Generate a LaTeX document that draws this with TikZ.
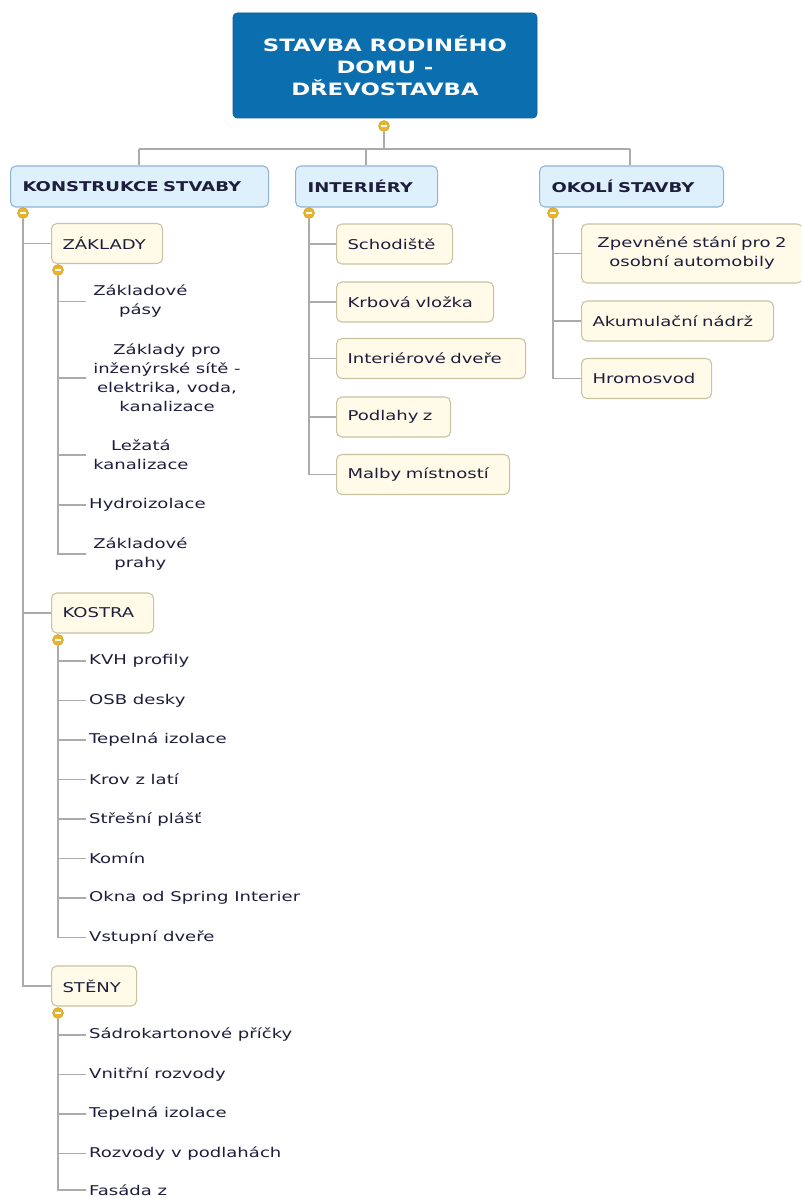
\documentclass[tikz,border=0pt]{standalone}
\usepackage{fontspec}
\setmainfont{DejaVu Sans}[FakeStretch=1.34]
\usetikzlibrary{backgrounds}

\definecolor{rootblue}{HTML}{0B6FAF}
\definecolor{rootedge}{HTML}{0A5E95}
\definecolor{topfill}{HTML}{DDF0FB}
\definecolor{topedge}{HTML}{8FB3D6}
\definecolor{subfill}{HTML}{FFFBE8}
\definecolor{subedge}{HTML}{C8C2A0}
\definecolor{linkgray}{HTML}{ABABAB}
\definecolor{knobyellow}{HTML}{E6B52C}
\definecolor{ink}{HTML}{1E1E3C}

\tikzset{
  rootbox/.style={draw=rootedge, fill=rootblue, rounded corners=3pt, text=white,
    font=\bfseries\fontsize{12.75}{16.5}\selectfont, align=center,
    minimum width=228pt, minimum height=78.75pt, inner sep=0pt},
  topic/.style={draw=topedge, fill=topfill, line width=0.8pt, rounded corners=4pt,
    anchor=west, font=\bfseries\fontsize{10.1}{13}\selectfont, text=ink,
    minimum height=30.75pt, inner xsep=9pt, inner ysep=0pt, align=left, text width=#1},
  sub/.style={draw=subedge, fill=subfill, line width=0.8pt, rounded corners=4pt,
    anchor=west, font=\fontsize{10.1}{14.25}\selectfont, text=ink,
    minimum height=30pt, inner xsep=8.25pt, inner ysep=0pt, align=left, text width=#1},
  leaf/.style={anchor=west, inner xsep=2.2pt, inner ysep=0pt,
    font=\fontsize{10.1}{14.25}\selectfont, text=ink},
  leafc/.style={leaf, align=center, inner xsep=5.25pt},
  knob/.style={circle, fill=knobyellow, draw=knobyellow!85!black, line width=0.3pt,
    minimum size=8.25pt, inner sep=0pt,
    path picture={\draw[white, line width=1.1pt]
      ([xshift=-2.3pt]path picture bounding box.center) --
      ([xshift=2.3pt]path picture bounding box.center);}},
  link/.style={draw=linkgray, line width=1.1pt},
  leaflink/.style={draw=linkgray, line width=1pt}
}

\begin{document}
\begin{tikzpicture}[x=0.75pt, y=-0.75pt]
\useasboundingbox (0,0) rectangle (801,1198);
\clip (0,0) rectangle (801,1198);

% central topic
\node[rootbox] (root) at (385,65.5) {STAVBA RODINÉHO\\DOMU -\\DŘEVOSTAVBA};
\node[knob] (rk) at (384,126) {};

% junction points on the distribution bar
\coordinate (barK) at (139,149);
\coordinate (barI) at (366,149);
\coordinate (barO) at (630,149);

% main branches
\node[topic=175.5pt] (kon) at (10,186.5) {KONSTRUKCE STVABY};
\node[topic=88.5pt]  (inte) at (295,186.5) {INTERIÉRY};
\node[topic=120pt]   (oko) at (539,186.5) {OKOLÍ STAVBY};
\node[knob] (kk) at (23,213) {};
\node[knob] (ik) at (309,213) {};
\node[knob] (ok) at (553,213) {};

% KONSTRUKCE STVABY
\node[sub=66.75pt] (zak) at (51,243.5) {ZÁKLADY};
\node[sub=60pt]    (kos) at (51,613) {KOSTRA};
\node[sub=47.25pt] (ste) at (51,986) {STĚNY};
\node[knob] (zk) at (58,270) {};
\node[knob] (kok) at (58,640) {};
\node[knob] (sk) at (58,1013) {};

% ZÁKLADY
\node[leafc] (z1) at (86,301.5) {Základové\\pásy};
\node[leafc] (z2) at (86,378) {Základy pro\\inženýrské sítě -\\elektrika, voda,\\kanalizace};
\node[leafc] (z3) at (86,455) {Ležatá\\kanalizace};
\node[leaf]  (z4) at (86,505) {Hydroizolace};
\node[leafc] (z5) at (86,554) {Základové\\prahy};

% KOSTRA
\node[leaf] (k1) at (86,661)   {KVH profily};
\node[leaf] (k2) at (86,700.5) {OSB desky};
\node[leaf] (k3) at (86,740)   {Tepelná izolace};
\node[leaf] (k4) at (86,779.5) {Krov z latí};
\node[leaf] (k5) at (86,819)   {Střešní plášť};
\node[leaf] (k6) at (86,858.5) {Komín};
\node[leaf] (k7) at (86,898)   {Okna od Spring Interier};
\node[leaf] (k8) at (86,937.5) {Vstupní dveře};

% STĚNY
\node[leaf] (s1) at (86,1035)   {Sádrokartonové příčky};
\node[leaf] (s2) at (86,1074.5) {Vnitřní rozvody};
\node[leaf] (s3) at (86,1114)   {Tepelná izolace};
\node[leaf] (s4) at (86,1153.5) {Rozvody v podlahách};
\node[leaf] (s5) at (86,1190)   {Fasáda z};

% INTERIÉRY
\node[sub=70.5pt]   (i1) at (336,244)   {Schodiště};
\node[sub=101.25pt] (i2) at (336,302)   {Krbová vložka};
\node[sub=125.25pt] (i3) at (336,358.5) {Interiérové dveře};
\node[sub=69pt]     (i4) at (336,417)   {Podlahy z};
\node[sub=113.25pt] (i5) at (336,474.5) {Malby místností};

% OKOLÍ STAVBY
\node[sub=149.25pt, align=center, minimum height=44.25pt] (o1) at (581,253.5)
  {Zpevněné stání pro 2\\osobní automobily};
\node[sub=127.5pt] (o2) at (581,321)   {Akumulační nádrž};
\node[sub=81pt]    (o3) at (581,378.5) {Hromosvod};

% connectors, kept behind the boxes and knobs
\begin{scope}[on background layer]
  \draw[link] (rk.south) -- (rk.south |- barK);
  \draw[link] (barK) -- (barO);
  \draw[link] (barK) -- (barK |- kon.north);
  \draw[link] (barI) -- (barI |- inte.north);
  \draw[link] (barO) -- (barO |- oko.north);

  \foreach \c in {zak,kos,ste} \draw[link] (kk.south) |- (\c.west);
  \foreach \c in {i1,i2,i3,i4,i5} \draw[link] (ik.south) |- (\c.west);
  \foreach \c in {o1,o2,o3} \draw[link] (ok.south) |- (\c.west);

  \foreach \c in {z1,z2,z3,z4,z5} \draw[leaflink] (zk.south) |- (\c.west);
  \foreach \c in {k1,k2,k3,k4,k5,k6,k7,k8} \draw[leaflink] (kok.south) |- (\c.west);
  \foreach \c in {s1,s2,s3,s4,s5} \draw[leaflink] (sk.south) |- (\c.west);
\end{scope}
\end{tikzpicture}
\end{document}
